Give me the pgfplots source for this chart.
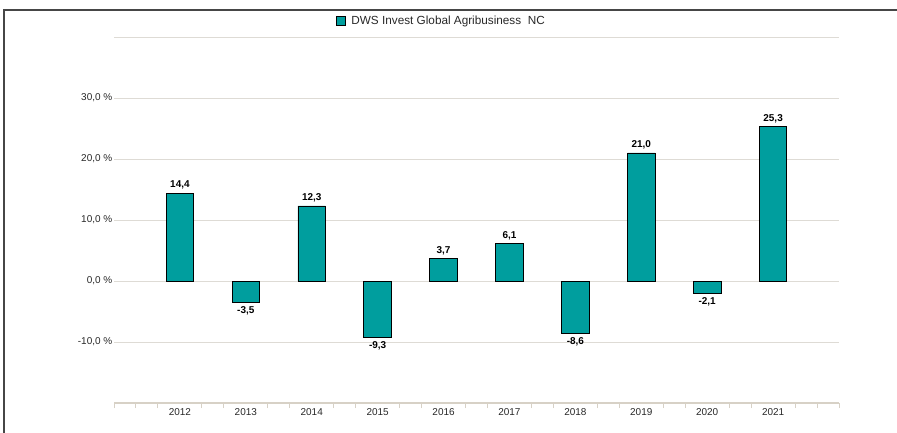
\documentclass[border=0pt]{standalone}
\usepackage{fontspec}
\setmainfont{Liberation Sans}
\usepackage{pgfplots}
\pgfplotsset{compat=1.18}
\definecolor{barc}{RGB}{0,158,158}
\definecolor{gridc}{RGB}{222,219,213}
\definecolor{axc}{RGB}{215,209,198}
\definecolor{framec}{RGB}{70,70,70}
\definecolor{txt}{RGB}{40,40,40}
\begin{document}
\begin{tikzpicture}
\useasboundingbox (0,0) rectangle (897bp,433bp);
\draw[framec, line width=2bp] (3.5bp,0) -- (3.5bp,423bp) -- (897bp,423bp);
\begin{axis}[
  at={(114bp,30bp)}, anchor=south west,
  scale only axis, width=725bp, height=366bp,
  xmin=-1, xmax=10, ymin=-20, ymax=40,
  axis x line*=bottom, axis y line*=left,
  x axis line style={draw=axc, line width=1.8bp},
  y axis line style={draw=none},
  ytick={-10,0,10,20,30,40},
  yticklabels={{-10,0 \%},{0,0 \%},{10,0 \%},{20,0 \%},{30,0 \%},{}},
  ytick style={draw=none},
  ymajorgrids, grid style={draw=gridc, line width=1bp},
  xtick={0,...,9},
  xticklabels={2012,2013,2014,2015,2016,2017,2018,2019,2020,2021},
  major x tick style={draw=none},
  minor xtick={-1,-0.6667,-0.3333,0.3333,0.6667,1.3333,1.6667,2.3333,2.6667,3.3333,3.6667,4.3333,4.6667,5.3333,5.6667,6.3333,6.6667,7.3333,7.6667,8.3333,8.6667,9.3333,9.6667,10},
  minor x tick style={draw=axc, line width=1bp},
  minor tick length=5bp,
  tick align=outside,
  ticklabel style={font=\fontsize{10}{12}\selectfont, text=txt},
  yticklabel style={xshift=6bp},
  xticklabel style={yshift=2bp},
  /pgf/number format/assume math mode=true,
  ybar, bar width=27.5bp,
  nodes near coords,
  nodes near coords style={font=\bfseries\fontsize{10}{12}\selectfont, text=black,
     /pgf/number format/.cd, fixed, fixed zerofill, precision=1, use comma, assume math mode=true},
  legend style={at={(0.4517,1.0437)}, anchor=center, draw=none, fill=none,
     font=\fontsize{11.8}{14}\selectfont, text=txt},
  legend image code/.code={\draw[fill=barc,draw=black,line width=0.7bp] (0bp,-4.5bp) rectangle (9bp,4.5bp);},
]
\addplot[fill=barc, draw=black, line width=0.8bp] coordinates {
(0,14.4) (1,-3.5) (2,12.3) (3,-9.3) (4,3.7) (5,6.1) (6,-8.6) (7,21.0) (8,-2.1) (9,25.3)};
\addlegendentry{\hspace{3.5bp}DWS Invest Global Agribusiness\ \ NC}
\end{axis}
\end{tikzpicture}
\end{document}
